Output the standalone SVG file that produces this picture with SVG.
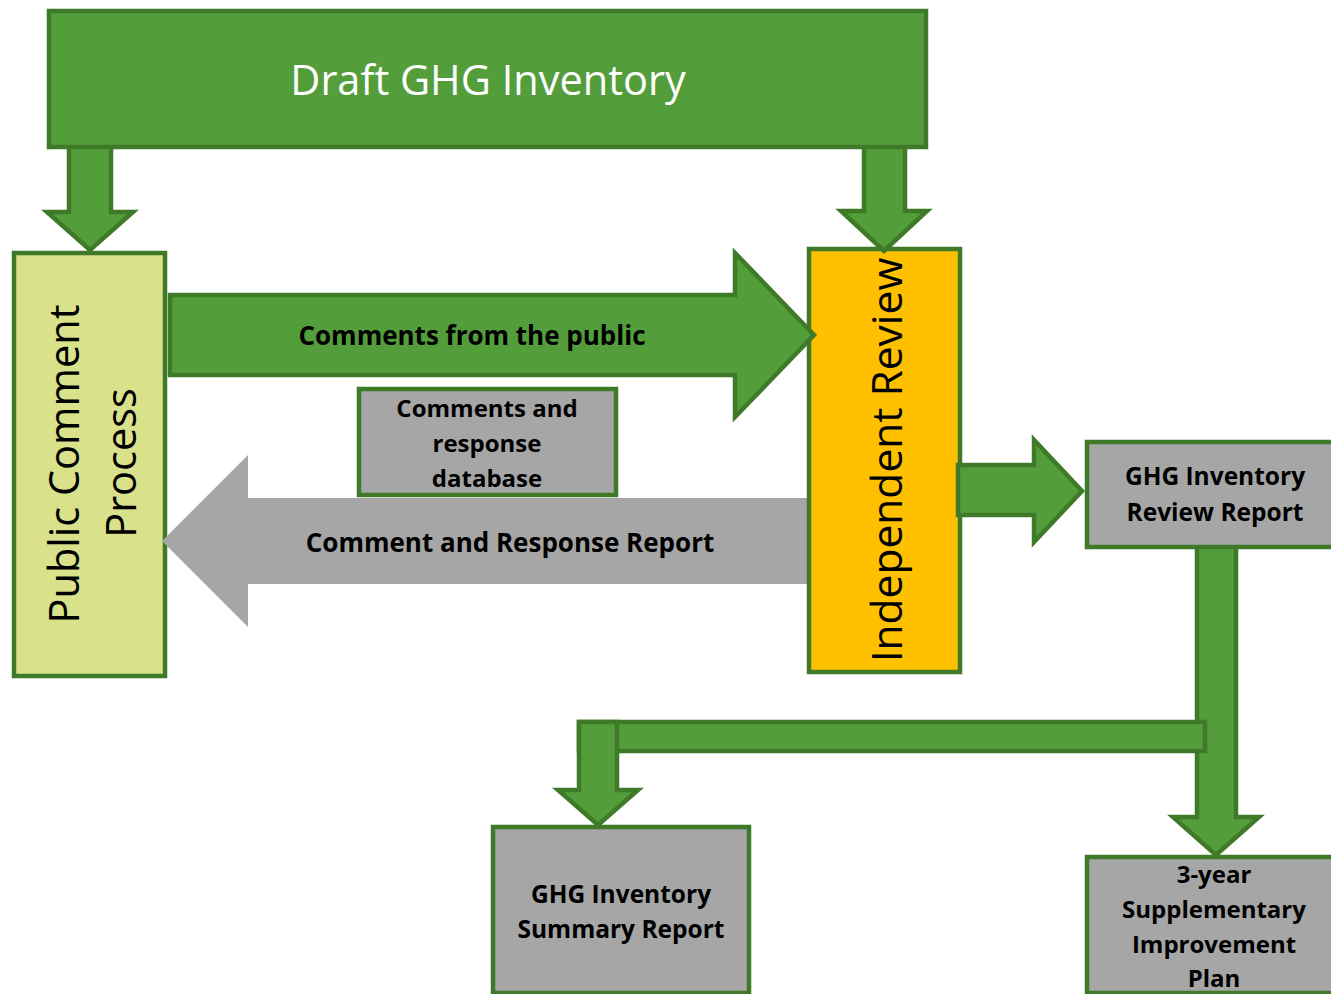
<svg xmlns="http://www.w3.org/2000/svg" width="1331" height="994" viewBox="0 0 1331 994">
<style>
.box{stroke:#3F7A29;stroke-width:4.5}
.green{fill:#539E3B}
.gray{fill:#A6A6A6}
.arrow{fill:#539E3B;stroke:#3F7A29;stroke-width:4.5;stroke-linejoin:miter}
.reg{font-family:"Open Sans","DejaVu Sans",sans-serif;font-weight:400;font-size:41.5px;fill:#000;text-anchor:middle}
.bold{font-family:"Open Sans","DejaVu Sans",sans-serif;font-weight:700;font-size:24px;fill:#000;text-anchor:middle}
.big{font-size:26px}
</style>
<rect width="1331" height="994" fill="#FFFFFF"/>

<g id="public-comment">
<rect class="box" x="14" y="253" width="151" height="423" fill="#D9E18B"/>
<text class="reg" transform="rotate(-90 79 464)" x="79" y="464">Public Comment</text>
<text class="reg" transform="rotate(-90 136 463)" x="136" y="463">Process</text>
</g>

<g id="connectors-under">
<polygon id="comment-response-report-arrow" fill="#A6A6A6" points="814,498 248,498 248,455 162,541 248,627 248,584 814,584"/>
<text class="bold big" x="510" y="552">Comment and Response Report</text>
</g>

<g id="independent-review">
<rect class="box" x="809" y="249" width="151" height="423" fill="#FFC000"/>
<text class="reg" style="font-size:42.5px" transform="rotate(-90 902 460)" x="902" y="460">Independent Review</text>
</g>

<g id="connectors">
<polygon class="arrow" points="69,145 111,145 111,212 133,212 90,250 47,212 69,212"/>
<polygon class="arrow" points="864,145 905,145 905,211 927,211 884,251 841,211 864,211"/>
<polygon class="arrow" points="170,295 735,295 735,253 814,335 735,417 735,375 170,375"/>
<polygon class="arrow" points="958,465 1034,465 1034,440 1082,491 1034,542 1034,515 958,515"/>
<polygon class="arrow" points="1197,545 1236,545 1236,817 1259,817 1216,855 1173,817 1197,817"/>
<rect class="arrow" x="579" y="722" width="626" height="29"/>
<polygon class="arrow" points="579,722 617,722 617,790 638,790 598,825 558,790 579,790"/>
<text class="bold big" x="472" y="345">Comments from the public</text>
</g>

<g id="draft-ghg">
<rect class="box green" x="49" y="11" width="877" height="136"/>
<text class="reg" style="font-size:41.5px;fill:#FFFFFF" x="488" y="95">Draft GHG Inventory</text>
</g>

<g id="database">
<rect class="box gray" x="359" y="389" width="257" height="106"/>
<text class="bold" x="487" y="417">Comments and</text>
<text class="bold" x="487" y="452">response</text>
<text class="bold" x="487" y="487">database</text>
</g>

<g id="review-report">
<rect class="box gray" x="1087" y="442" width="260" height="105"/>
<text class="bold" style="font-size:24.5px" x="1215" y="485">GHG Inventory</text>
<text class="bold" style="font-size:24.5px" x="1215" y="521">Review Report</text>
</g>

<g id="summary-report">
<rect class="box gray" x="493" y="827" width="256" height="166"/>
<text class="bold" style="font-size:24.5px" x="621" y="903">GHG Inventory</text>
<text class="bold" style="font-size:24.5px" x="621" y="938">Summary Report</text>
</g>

<g id="improvement-plan">
<rect class="box gray" x="1087" y="857" width="260" height="136"/>
<text class="bold" x="1214" y="883">3-year</text>
<text class="bold" x="1214" y="918">Supplementary</text>
<text class="bold" x="1214" y="953">Improvement</text>
<text class="bold" x="1214" y="987">Plan</text>
</g>
</svg>
